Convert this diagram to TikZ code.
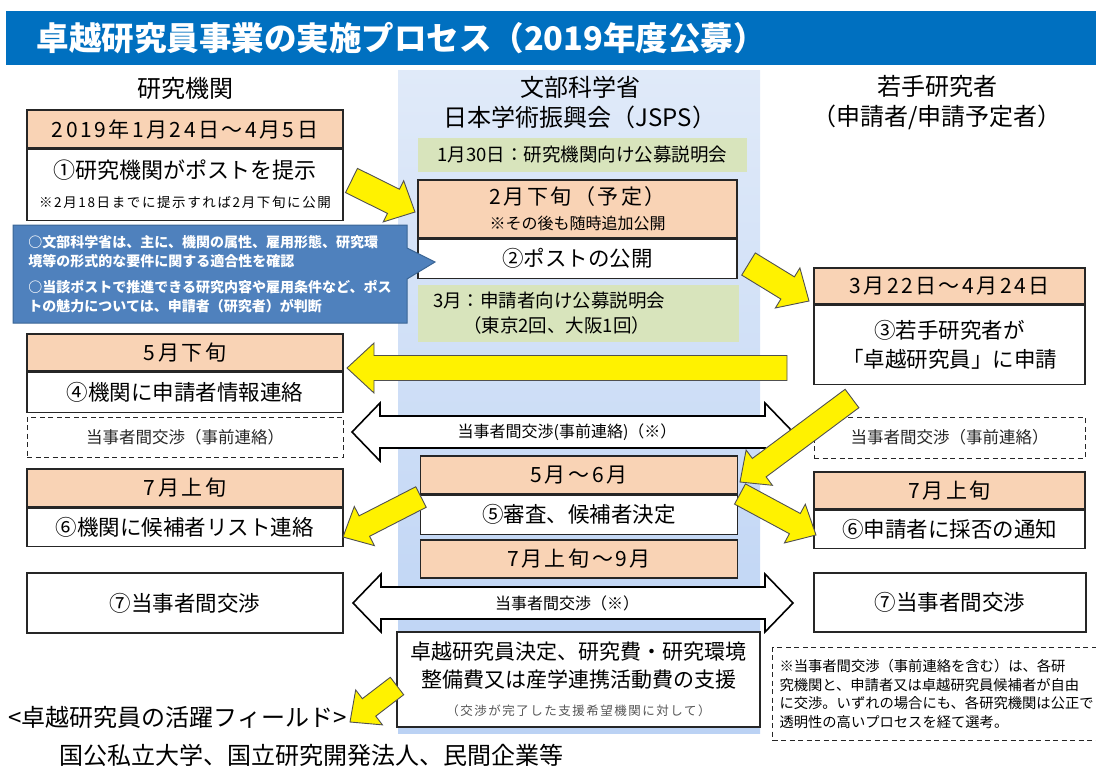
\documentclass[tikz,border=0pt]{standalone}
\usepackage{fontspec}
\setmainfont{Noto Sans CJK JP}
\newfontfamily\datefont{Noto Sans CJK JP}[LetterSpace=12]
\usetikzlibrary{calc, positioning, shapes.callouts}
\definecolor{titleblue}{HTML}{0070C0}
\definecolor{datefill}{HTML}{F9D3B5}
\definecolor{briefgreen}{HTML}{D8E4BC}
\definecolor{calloutblue}{HTML}{4F81BD}
\definecolor{calloutline}{HTML}{3A6595}
\definecolor{bgtop}{HTML}{E0EAF9}
\definecolor{bgbottom}{HTML}{BBD2F4}
\definecolor{boxline}{HTML}{262626}
\definecolor{arrowline}{HTML}{505050}
\definecolor{notegray}{HTML}{555555}
\newcommand{\fatarrow}[6][yellowshape]{%
	\draw[#1] let \p1 = ($(#3)-(#2)$), \n1 = {atan2(\y1,\x1)}, \n2 = {veclen(\x1,\y1)} in
		($(#2)+(\n1+90:#4)$) -- ($(#2)+(\n1:\n2-#6)+(\n1+90:#4)$) -- ($(#2)+(\n1:\n2-#6)+(\n1+90:#5)$) -- (#3)
		-- ($(#2)+(\n1:\n2-#6)+(\n1-90:#5)$) -- ($(#2)+(\n1:\n2-#6)+(\n1-90:#4)$) -- ($(#2)+(\n1-90:#4)$) -- cycle;%
}
\newcommand{\talkarrow}[6][talkshape]{%
	\draw[#1] let \p1 = ($(#3)-(#2)$), \n1 = {atan2(\y1,\x1)}, \n2 = {veclen(\x1,\y1)} in
		(#2) -- ($(#2)+(\n1:#6)+(\n1+90:#5)$) -- ($(#2)+(\n1:#6)+(\n1+90:#4)$) -- ($(#2)+(\n1:\n2-#6)+(\n1+90:#4)$) -- ($(#2)+(\n1:\n2-#6)+(\n1+90:#5)$) -- (#3)
		-- ($(#2)+(\n1:\n2-#6)+(\n1-90:#5)$) -- ($(#2)+(\n1:\n2-#6)+(\n1-90:#4)$) -- ($(#2)+(\n1:#6)+(\n1-90:#4)$) -- ($(#2)+(\n1:#6)+(\n1-90:#5)$) -- cycle;%
}

\begin{document}
\begin{tikzpicture}[x=1pt, y=-1pt,
		datebox/.style={draw=boxline, fill=datefill, line width=1.2pt, inner sep=0pt, align=center, font=\datefont\fontsize{21}{25}\selectfont},
		bodybox/.style={draw=boxline, fill=white, line width=1.2pt, inner sep=0pt, align=center, font=\fontsize{21.5}{29}\selectfont},
		dashbox/.style={draw=boxline, dash pattern=on 5pt off 3.5pt, line width=1pt, inner sep=0pt, text=black!85, font=\fontsize{16.5}{20}\selectfont},
		briefbox/.style={fill=briefgreen, inner sep=0pt, font=\fontsize{18.5}{25}\selectfont},
		heading/.style={align=center, font=\fontsize{24}{30}\selectfont},
		yellowshape/.style={fill=yellow, draw=arrowline, line width=0.9pt, line join=miter},
		talkshape/.style={fill=white, draw=black, line width=1.6pt, line join=miter},
		talktext/.style={font=\fontsize{16}{20}\selectfont}]
	\useasboundingbox (0,0) rectangle (1096,769);
	\shade[top color=bgtop, bottom color=bgbottom] (398,70) rectangle (760,733);
	\fill[titleblue] (6,11) rectangle (1100,65);
	\node[anchor=west, text=white, font=\bfseries\fontsize{32.5}{36}\selectfont] (title) at (33,38) {卓越研究員事業の実施プロセス（2019年度公募）};

	\node[heading] (orgHead) at (185,88) {研究機関};
	\node[heading] (jspsHead) at (580,103) {文部科学省\\日本学術振興会（JSPS）};
	\node[heading] (youngHead) at (937,103) {若手研究者\\（申請者/申請予定者）};

	\node[datebox, minimum width=316, minimum height=38] (dateA) at (185,129) {2019年1月24日～4月5日};
	\node[bodybox, minimum width=316, minimum height=71, below=0pt of dateA] (postA) {{\fontsize{22}{23}\selectfont ①研究機関がポストを提示}\\{\datefont\fontsize{13.5}{16}\selectfont ※2月18日までに提示すれば2月下旬に公開}};
	\node[datebox, minimum width=316, minimum height=37] (dateB) at (185,352.5) {5月下旬};
	\node[bodybox, minimum width=316, minimum height=40, below=0pt of dateB] (infoB) {④機関に申請者情報連絡};
	\node[dashbox, minimum width=316, minimum height=40] (talkL) at (185,437) {当事者間交渉（事前連絡）};
	\node[datebox, minimum width=316, minimum height=38] (dateC) at (185,488) {7月上旬};
	\node[bodybox, minimum width=316, minimum height=38, below=0pt of dateC] (listC) {⑥機関に候補者リスト連絡};
	\node[bodybox, minimum width=316, minimum height=60] (negoL) at (185,603) {⑦当事者間交渉};

	\node[briefbox, minimum width=329, minimum height=34] (briefA) at (582.5,155) {1月30日：研究機関向け公募説明会};
	\node[datebox, minimum width=319, minimum height=58] (dateD) at (577.5,209) {2月下旬（予定）\\{\rmfamily\fontsize{16}{20}\selectfont ※その後も随時追加公開}};
	\node[bodybox, minimum width=319, minimum height=39, below=0pt of dateD] (openD) {②ポストの公開};
	\node[briefbox, minimum width=321, minimum height=57, align=left, text width=291, inner xsep=15] (briefB) at (578.5,313.5) {3月：申請者向け公募説明会\\\hspace*{30pt}（東京2回、大阪1回）};
	\node[datebox, minimum width=317, minimum height=38] (dateE) at (579,475) {5月～6月};
	\node[bodybox, minimum width=317, minimum height=39, below=0pt of dateE] (judgeE) {⑤審査、候補者決定};
	\node[datebox, minimum width=317, minimum height=38] (dateF) at (579,559) {7月上旬～9月};
	\node[bodybox, minimum width=363, minimum height=95, font=\fontsize{21}{28}\selectfont] (fundG) at (578.5,679.5) {卓越研究員決定、研究費・研究環境\\整備費又は産学連携活動費の支援\\{\datefont\fontsize{12.5}{16}\selectfont\color{notegray}（交渉が完了した支援希望機関に対して）}};

	\node[datebox, minimum width=271, minimum height=36] (dateH) at (949.5,286) {3月22日～4月24日};
	\node[bodybox, minimum width=271, minimum height=79, below=0pt of dateH] (applyH) {③若手研究者が\\「卓越研究員」に申請};
	\node[dashbox, minimum width=271, minimum height=41] (talkR) at (949.5,437.5) {当事者間交渉（事前連絡）};
	\node[datebox, minimum width=271, minimum height=37] (dateI) at (949.5,490.5) {7月上旬};
	\node[bodybox, minimum width=271, minimum height=38, below=0pt of dateI] (notifyI) {⑥申請者に採否の通知};
	\node[bodybox, minimum width=272, minimum height=59] (negoR) at (950,602.5) {⑦当事者間交渉};
	\node[dashbox, anchor=north west, minimum width=345, minimum height=93, text width=331, inner xsep=7, align=left, text=black, font=\fontsize{14.3}{18.7}\selectfont] (noteJ) at (772,647) {※当事者間交渉（事前連絡を含む）は、各研\\究機関と、申請者又は卓越研究員候補者が自由\\に交渉。いずれの場合にも、各研究機関は公正で\\透明性の高いプロセスを経て選考。};

	\node[anchor=west, font=\fontsize{24}{28}\selectfont] (fieldK) at (5,717) {<卓越研究員の活躍フィールド>};
	\node[anchor=west, font=\fontsize{24}{28}\selectfont] (placesK) at (56,755) {国公私立大学、国立研究開発法人、民間企業等};

	\coordinate (talkA1) at (352,432);
	\coordinate (talkA2) at (793,432);
	\talkarrow{talkA1}{talkA2}{16pt}{29pt}{28pt}
	\node[talktext] (talkAtext) at (567,432) {当事者間交渉(事前連絡)（※）};
	\coordinate (talkB1) at (353,603);
	\coordinate (talkB2) at (793,603);
	\talkarrow{talkB1}{talkB2}{16pt}{29pt}{28pt}
	\node[talktext] (talkBtext) at (567,603) {当事者間交渉（※）};

	\coordinate (postTail) at (351.5,180.5);
	\coordinate (postTip) at (415,212);
	\fatarrow{postTail}{postTip}{13.5pt}{23pt}{24pt}
	\coordinate (openTail) at (748.5,264);
	\coordinate (openTip) at (809,301);
	\fatarrow{openTail}{openTip}{13pt}{23.5pt}{25pt}
	\coordinate (infoTail) at (787,368);
	\coordinate (infoTip) at (347,368);
	\fatarrow{infoTail}{infoTip}{12.5pt}{25pt}{27pt}
	\coordinate (applyTail) at (852,398.5);
	\coordinate (applyTip) at (740,482);
	\fatarrow{applyTail}{applyTip}{11.5pt}{22pt}{24pt}
	\coordinate (listTail) at (421,497);
	\coordinate (listTip) at (343,537);
	\fatarrow{listTail}{listTip}{11.5pt}{22pt}{24pt}
	\coordinate (notifyTail) at (740,494);
	\coordinate (notifyTip) at (816,535);
	\fatarrow{notifyTail}{notifyTip}{11.5pt}{22pt}{24pt}
	\coordinate (fundTail) at (397,686);
	\coordinate (fundTip) at (350,722);
	\fatarrow{fundTail}{fundTip}{11pt}{22pt}{24pt}

	\node[rectangle callout, callout absolute pointer={(435,262)}, callout pointer width=31pt, fill=calloutblue, draw=calloutline, line width=1pt, minimum width=394, minimum height=98, inner sep=0pt, text=white, align=left, font=\bfseries\fontsize{14}{19}\selectfont] (checkNote) at (210,274) {○文部科学省は、主に、機関の属性、雇用形態、研究環\\境等の形式的な要件に関する適合性を確認\\[7pt]○当該ポストで推進できる研究内容や雇用条件など、ポス\\トの魅力については、申請者（研究者）が判断};
\end{tikzpicture}
\end{document}
